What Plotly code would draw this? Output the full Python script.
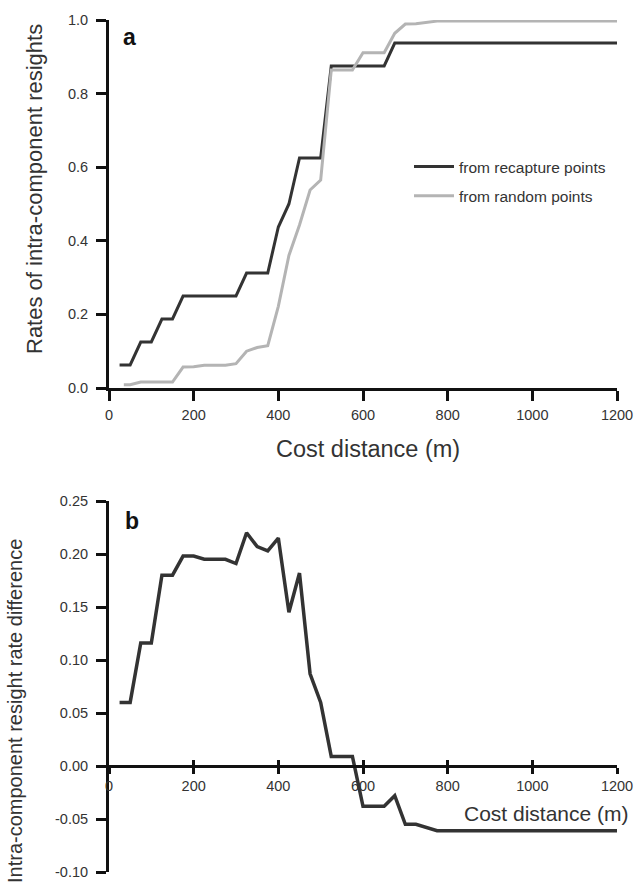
import plotly.graph_objects as go

# ---- data ----
dist_recap = [25, 50, 75, 100, 125, 150, 175, 200, 225, 250, 275, 300, 325, 350, 375,
              400, 425, 450, 475, 500, 525, 550, 575, 600, 625, 650, 675, 700, 800,
              900, 1000, 1100, 1200]
rate_recap = [0.0625, 0.0625, 0.125, 0.125, 0.1875, 0.1875, 0.25, 0.25, 0.25, 0.25, 0.25,
              0.25, 0.3125, 0.3125, 0.3125, 0.4375, 0.5, 0.625, 0.625, 0.625, 0.875,
              0.875, 0.875, 0.875, 0.875, 0.875, 0.9375, 0.9375, 0.9375, 0.9375,
              0.9375, 0.9375, 0.9375]

dist_random = [35, 50, 75, 100, 125, 150, 175, 200, 225, 250, 275, 300, 325, 350, 375,
               400, 425, 450, 475, 500, 525, 550, 575, 600, 625, 650, 675, 700, 725,
               750, 775, 800, 900, 1000, 1100, 1200]
rate_random = [0.009, 0.009, 0.016, 0.016, 0.016, 0.016, 0.057, 0.058, 0.062, 0.062,
               0.062, 0.066, 0.100, 0.110, 0.115, 0.222, 0.360, 0.443, 0.538, 0.565,
               0.864, 0.864, 0.864, 0.911, 0.911, 0.911, 0.964, 0.989, 0.990, 0.993,
               0.997, 0.997, 0.997, 0.997, 0.997, 0.997]

dist_diff = [25, 50, 75, 100, 125, 150, 175, 200, 225, 250, 275, 300, 325, 350, 375,
             400, 425, 450, 475, 500, 525, 550, 575, 600, 625, 650, 675, 700, 725,
             750, 775, 800, 900, 1000, 1100, 1200]
rate_diff = [0.060, 0.060, 0.116, 0.116, 0.180, 0.180, 0.198, 0.198, 0.195, 0.195,
             0.195, 0.191, 0.220, 0.207, 0.203, 0.215, 0.145, 0.182, 0.087, 0.060,
             0.009, 0.009, 0.009, -0.038, -0.038, -0.038, -0.028, -0.055, -0.055,
             -0.058, -0.061, -0.061, -0.061, -0.061, -0.061, -0.061]

x_ticks = [0, 200, 400, 600, 800, 1000, 1200]
ya_ticks = [0.0, 0.2, 0.4, 0.6, 0.8, 1.0]
ya_text = ["0.0", "0.2", "0.4", "0.6", "0.8", "1.0"]
yb_ticks = [-0.10, -0.05, 0.00, 0.05, 0.10, 0.15, 0.20, 0.25]
yb_text = ["-0.10", "-0.05", "0.00", "0.05", "0.10", "0.15", "0.20", "0.25"]

# ---- layout geometry (pixels in a 634x886 page) ----
W, H = 634, 886
FONT = "Liberation Sans, Arial, Helvetica, sans-serif"
DARK = "#333333"
GREY = "#b4b4b4"

def px_x(p):
    return p / W

def px_y(p):
    return (H - p) / H

xdom = [px_x(109), px_x(617)]
ya_dom = [px_y(388), px_y(20)]
yb_dom = [px_y(872), px_y(501)]
yb_range = [-0.10, 0.25]
zero_pos = yb_dom[0] + (0 - yb_range[0]) / (yb_range[1] - yb_range[0]) * (yb_dom[1] - yb_dom[0])

fig = go.Figure()
fig.add_trace(go.Scatter(x=dist_recap, y=rate_recap, mode="lines", name="from recapture points",
                         line=dict(color=DARK, width=3), xaxis="x", yaxis="y",
                         legendgroup="g1"))
fig.add_trace(go.Scatter(x=dist_random, y=rate_random, mode="lines", name="from random points",
                         line=dict(color=GREY, width=3), xaxis="x", yaxis="y",
                         legendgroup="g2"))
fig.add_trace(go.Scatter(x=dist_diff, y=rate_diff, mode="lines", showlegend=False,
                         line=dict(color=DARK, width=3.5), xaxis="x2", yaxis="y2"))
# invisible trace to activate the crossing-tick overlay axis
fig.add_trace(go.Scatter(x=[0, 1200], y=[0, 0], mode="lines", xaxis="x3", yaxis="y2",
                         line=dict(width=0), showlegend=False, hoverinfo="skip"))

axis_common = dict(showline=True, linewidth=3, linecolor="#111111", showgrid=False,
                   zeroline=False, ticks="outside", tickwidth=2.5, tickcolor="#111111",
                   automargin=False,
                   tickfont=dict(family=FONT, size=14.5, color=DARK))

fig.update_layout(
    template="none",
    width=W, height=H, autosize=False,
    margin=dict(l=0, r=0, t=0, b=0, pad=0),
    paper_bgcolor="white", plot_bgcolor="white",
    font=dict(family=FONT, color=DARK),
    xaxis=dict(domain=xdom, anchor="y", range=[0, 1200], tickvals=x_ticks, ticklen=10,
               ticklabelstandoff=2, **axis_common),
    yaxis=dict(domain=ya_dom, anchor="x", range=[0, 1.0], tickvals=ya_ticks, ticktext=ya_text,
               ticklen=10, ticklabelstandoff=5, **axis_common),
    xaxis2=dict(domain=xdom, anchor="free", position=zero_pos, range=[0, 1200],
                tickvals=x_ticks, ticklen=6, **axis_common),
    xaxis3=dict(domain=xdom, anchor="free", position=zero_pos, overlaying="x2",
                range=[0, 1200], tickvals=x_ticks, ticks="inside", ticklen=6, tickwidth=2.5,
                tickcolor="#111111", showticklabels=False, showline=False, showgrid=False,
                zeroline=False, automargin=False),
    yaxis2=dict(domain=yb_dom, anchor="x2", range=yb_range, tickvals=yb_ticks,
                ticktext=yb_text, ticklen=10, ticklabelstandoff=5, **axis_common),
    showlegend=True,
    legend=dict(x=px_x(409), y=px_y(150), xanchor="left", yanchor="top",
                font=dict(family=FONT, size=15.5, color=DARK), tracegroupgap=6,
                itemwidth=40,
                bgcolor="rgba(0,0,0,0)", borderwidth=0),
)

annotations = [
    dict(text="<b>a</b>", x=px_x(121), y=px_y(37), xanchor="left", yanchor="middle",
         font=dict(size=23, color="#111111")),
    dict(text="<b>b</b>", x=px_x(123), y=px_y(521), xanchor="left", yanchor="middle",
         font=dict(size=23, color="#111111")),
    dict(text="Cost distance (m)", x=px_x(368), y=px_y(449), xanchor="center",
         yanchor="middle", font=dict(size=23.5, color=DARK)),
    dict(text="Cost distance (m)", x=px_x(631), y=px_y(813), xanchor="right",
         yanchor="middle", font=dict(size=21, color=DARK)),
    dict(text="Rates of intra-component resights", x=px_x(34), y=px_y(189), textangle=-90,
         xanchor="center", yanchor="middle", font=dict(size=22, color=DARK)),
    dict(text="Intra-component resight rate difference", x=px_x(15), y=px_y(711),
         textangle=-90, xanchor="center", yanchor="middle", font=dict(size=20, color=DARK)),
]
for a in annotations:
    a.update(xref="paper", yref="paper", showarrow=False)
    a["font"]["family"] = FONT
fig.update_layout(annotations=annotations)

fig.write_html(
    "out.html",
    config={"responsive": False, "displayModeBar": False},
    post_script="document.body.style.margin='0';document.body.style.overflow='hidden';",
)
